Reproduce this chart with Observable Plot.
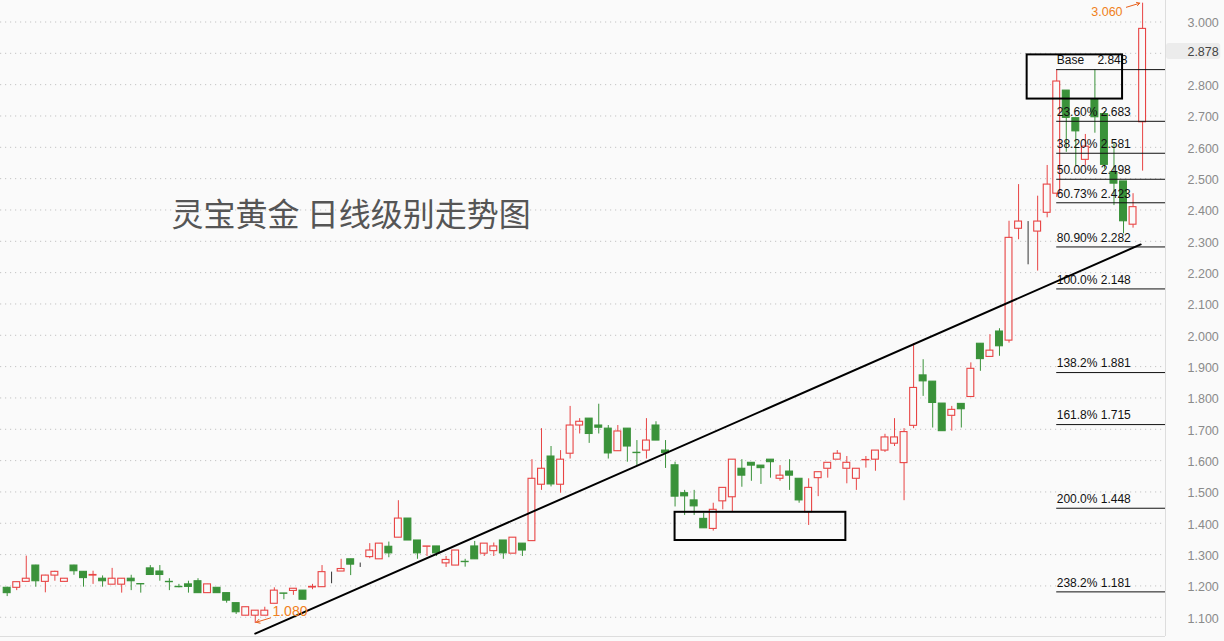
<!DOCTYPE html>
<html>
<head>
<meta charset="utf-8">
<script src="https://cdn.jsdelivr.net/npm/d3@7"></script>
<script src="https://cdn.jsdelivr.net/npm/@observablehq/plot@0.6"></script>
<style>
  html, body { margin: 0; padding: 0; background: #fafafa; }
  #chart svg { display: block; background: #fafafa; }
  #chart svg text { white-space: pre; }
</style>
</head>
<body>
<div id="chart"></div>
<script>
// ---- Data ----
const titleText = "灵宝黄金 日线级别走势图";

const open = [1.194,1.194,1.213,1.265,1.213,1.233,1.213,1.265,1.245,1.233,
1.223,1.204,1.204,1.223,1.206,1.256,1.246,1.213,1.197,1.205,
1.215,1.177,1.194,1.177,1.145,1.105,1.105,1.105,1.143,1.176,
1.184,1.185,1.195,1.196,1.244,1.246,1.285,1.265,1.292,1.285,
1.325,1.354,1.415,1.345,1.325,1.326,1.272,1.265,1.277,1.326,
1.303,1.311,1.345,1.303,1.335,1.343,1.523,1.613,1.523,1.622,
1.712,1.734,1.712,1.702,1.630,1.702,1.625,1.632,1.712,1.632,
1.585,1.496,1.473,1.414,1.382,1.470,1.483,1.574,1.593,1.584,
1.603,1.542,1.565,1.542,1.435,1.544,1.574,1.603,1.574,1.542,
1.601,1.603,1.632,1.654,1.592,1.711,1.872,1.852,1.782,1.743,
1.781,1.803,1.973,1.931,2.012,1.983,2.340,2.363,2.331,2.391,
2.452,2.781,2.693,2.560,2.752,2.706,2.521,2.491,2.353,2.680];

const high = [1.196,1.212,1.295,1.266,1.234,1.247,1.223,1.266,1.246,1.247,
1.232,1.256,1.223,1.234,1.206,1.265,1.265,1.223,1.205,1.215,
1.223,1.205,1.194,1.177,1.145,1.132,1.121,1.132,1.194,1.176,
1.191,1.185,1.205,1.265,1.244,1.285,1.285,1.273,1.335,1.335,
1.340,1.472,1.415,1.345,1.326,1.326,1.294,1.313,1.285,1.342,
1.335,1.337,1.345,1.354,1.335,1.603,1.702,1.645,1.632,1.773,
1.734,1.734,1.780,1.712,1.712,1.702,1.664,1.734,1.724,1.664,
1.595,1.505,1.505,1.432,1.464,1.513,1.603,1.603,1.593,1.584,
1.603,1.584,1.603,1.542,1.542,1.563,1.593,1.632,1.613,1.574,
1.613,1.632,1.684,1.734,1.702,1.973,1.922,1.852,1.782,1.773,
1.781,1.912,1.973,2.002,2.021,2.364,2.481,2.363,2.444,2.542,
2.848,2.781,2.693,2.641,2.848,2.714,2.611,2.491,2.452,3.060];

const low = [1.166,1.185,1.212,1.196,1.178,1.215,1.213,1.234,1.196,1.205,
1.196,1.204,1.177,1.185,1.177,1.235,1.215,1.185,1.194,1.177,
1.177,1.177,1.177,1.145,1.109,1.105,1.080,1.105,1.143,1.156,
1.170,1.156,1.188,1.196,1.207,1.246,1.233,1.259,1.287,1.285,
1.290,1.354,1.345,1.285,1.294,1.294,1.259,1.265,1.260,1.285,
1.294,1.294,1.285,1.303,1.294,1.343,1.505,1.516,1.496,1.605,
1.685,1.655,1.685,1.605,1.630,1.595,1.584,1.605,1.664,1.575,
1.452,1.425,1.425,1.384,1.375,1.443,1.435,1.515,1.534,1.524,
1.544,1.534,1.505,1.464,1.393,1.485,1.544,1.603,1.526,1.505,
1.576,1.566,1.626,1.645,1.472,1.702,1.805,1.704,1.694,1.694,
1.704,1.803,1.885,1.931,1.933,1.975,2.305,2.225,2.205,2.375,
2.440,2.584,2.540,2.540,2.645,2.530,2.414,2.324,2.342,2.524];

const close = [1.177,1.212,1.223,1.215,1.233,1.245,1.223,1.247,1.225,1.235,
1.215,1.223,1.223,1.215,1.205,1.235,1.235,1.212,1.196,1.197,
1.177,1.205,1.177,1.153,1.116,1.132,1.121,1.121,1.185,1.175,
1.191,1.156,1.197,1.244,1.244,1.254,1.268,1.265,1.313,1.335,
1.304,1.415,1.345,1.304,1.326,1.304,1.283,1.313,1.276,1.285,
1.335,1.326,1.304,1.354,1.313,1.542,1.574,1.524,1.603,1.712,
1.724,1.685,1.705,1.623,1.693,1.645,1.624,1.664,1.664,1.624,
1.485,1.486,1.454,1.384,1.443,1.513,1.603,1.552,1.584,1.576,
1.595,1.552,1.552,1.473,1.513,1.563,1.593,1.622,1.593,1.574,
1.602,1.632,1.674,1.674,1.691,1.832,1.853,1.784,1.694,1.762,
1.764,1.893,1.924,1.951,1.965,2.311,2.363,2.363,2.363,2.481,
2.810,2.694,2.651,2.602,2.696,2.544,2.484,2.364,2.409,2.978];

const yGrid = [1.1,1.2,1.3,1.4,1.5,1.6,1.7,1.8,1.9,2.0,2.1,2.2,2.3,2.4,2.5,2.6,2.7,2.8,2.9,3.0];
// 2.900 is hidden behind the last-price label in the reference
const yTickLabels = [1.1,1.2,1.3,1.4,1.5,1.6,1.7,1.8,1.9,2.0,2.1,2.2,2.3,2.4,2.5,2.6,2.7,2.8,3.0];

const fibNames  = ["Base    ","23.60% ","38.20% ","50.00% ","60.73% ","80.90% ","100.0% ","138.2% ","161.8% ","200.0% ","238.2% "];
const fibValues = [2.848,2.683,2.581,2.498,2.423,2.282,2.148,1.881,1.715,1.448,1.181];
const fibStart = 110;

const trendLine = [[26.0, 1.048], [118.8, 2.290]];
const boxes = [[70.0, 87.9, 1.345, 1.435], [106.9, 116.9, 2.754, 2.895]];

const lowNote  = {text: "1.080", x: 27.8, y: 1.118, from: [27.6, 1.098], to: [26.1, 1.084]};
const highNote = {text: "3.060", x: 116.9, y: 3.032, from: [117.3, 3.047], to: [118.7, 3.060]};
const lastPrice = "2.878";

// ---- Build ----
const rows = open.map((o, i) => ({i, o, h: high[i], l: low[i], c: close[i]}));
const RED = "#e84444", GREEN = "#3a923a", DOJI = "#333333", BG = "#fafafa";
const col = d => d.c > d.o ? RED : d.c < d.o ? GREEN : DOJI;
const xDomain = [-0.7, 121.4];
const yDomain = [1.0386, 3.0686];
const FONT = "'Liberation Sans', Arial, sans-serif";

const chart = Plot.plot({
  width: 1224,
  height: 641,
  marginLeft: 0,
  marginRight: 59,
  marginTop: 0,
  marginBottom: 5,
  style: {background: BG, fontFamily: FONT},
  x: {type: "linear", domain: xDomain, axis: null},
  y: {type: "linear", domain: yDomain, axis: null},
  marks: [
    Plot.ruleY(yGrid, {stroke: "#c4c4c4", strokeDasharray: "1.2,3.8", strokeWidth: 1}),
    Plot.ruleX([xDomain[1]], {stroke: "#dddddd"}),
    Plot.ruleY([yDomain[0]], {stroke: "#dddddd"}),
    Plot.axisY({anchor: "right", ticks: yTickLabels, tickSize: 0, tickPadding: 22,
      tickFormat: d => d.toFixed(3), fontSize: 12.5, fill: "#8a8a8a", fontFamily: FONT, dy: 1.5}),
    // last price label box
    Plot.rect([lastPrice], {x1: 121.5, x2: 127.2, y1: 2.880, y2: 2.931, fill: "#ececec", rx: 3, clip: false}),
    Plot.text([lastPrice], {x: 123.7, y: 2.904, text: d => d, textAnchor: "start", fontSize: 12.5, fill: "#444", clip: false}),
    // title
    Plot.text([titleText], {frameAnchor: "top-left", dx: 171, dy: 215, text: d => d, textAnchor: "start",
      lineAnchor: "middle", fontSize: 32, fill: "#555555", fontFamily: "'Noto Sans CJK SC', sans-serif"}),
    // candles
    Plot.ruleX(rows, {x: "i", y1: "l", y2: "h", stroke: col, strokeWidth: 1}),
    Plot.rect(rows, {x1: d => d.i - 0.36, x2: d => d.i + 0.36,
      y1: d => Math.min(d.o, d.c), y2: d => Math.max(d.o, d.c),
      fill: d => d.c > d.o ? BG : col(d), stroke: col, strokeWidth: 1.1}),
    // fib lines
    Plot.ruleY(fibValues, {x1: fibStart, x2: xDomain[1], stroke: "#111", strokeWidth: 1}),
    Plot.text(fibValues, {x: fibStart, y: d => d, text: (d, i) => fibNames[i] + d.toFixed(3),
      textAnchor: "start", dy: -9, fontSize: 12, fill: "#111"}),
    // trend line
    Plot.line(trendLine, {x: d => d[0], y: d => d[1], stroke: "#000", strokeWidth: 2}),
    // boxes
    Plot.rect(boxes, {x1: d => d[0], x2: d => d[1], y1: d => d[2], y2: d => d[3],
      fill: "none", stroke: "#000", strokeWidth: 2}),
    // annotations
    Plot.text([lowNote], {x: "x", y: "y", text: "text", textAnchor: "start", fontSize: 14, fill: "#f08020"}),
    Plot.arrow([lowNote], {x1: d => d.from[0], y1: d => d.from[1], x2: d => d.to[0], y2: d => d.to[1],
      stroke: "#e8601c", strokeWidth: 1, headLength: 6}),
    Plot.text([highNote], {x: "x", y: "y", text: "text", textAnchor: "end", fontSize: 12.5, fill: "#f08020"}),
    Plot.arrow([highNote], {x1: d => d.from[0], y1: d => d.from[1], x2: d => d.to[0], y2: d => d.to[1],
      stroke: "#e8601c", strokeWidth: 1, headLength: 5})
  ]
});
document.getElementById("chart").appendChild(chart);
</script>
</body>
</html>
